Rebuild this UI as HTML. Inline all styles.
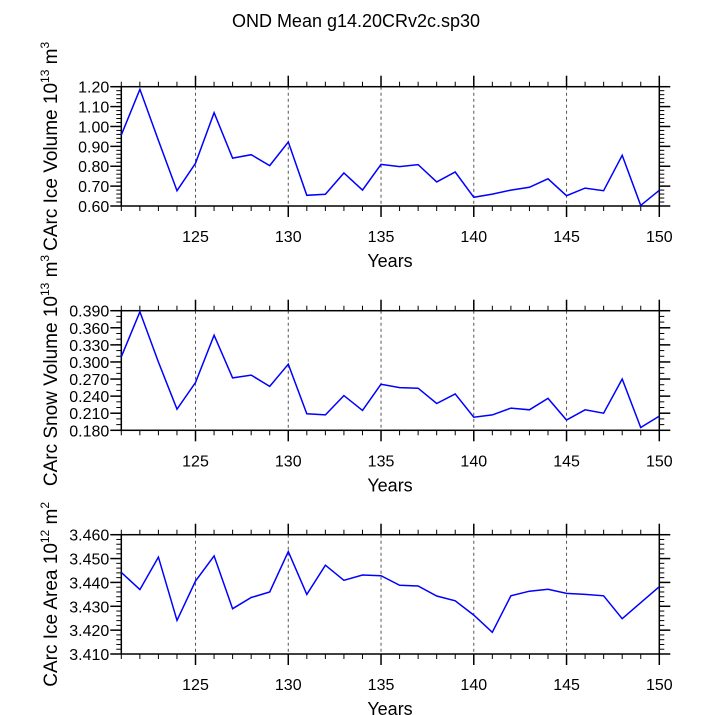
<!DOCTYPE html>
<html><head><meta charset="utf-8"><style>
body{margin:0;background:#fff}
svg{display:block;font-family:"Liberation Sans",Arial,sans-serif}
</style></head><body>
<svg id="chart" width="713" height="715" viewBox="0 0 713 715" xmlns="http://www.w3.org/2000/svg">
<text x="356" y="27" font-size="18" text-anchor="middle">OND Mean g14.20CRv2c.sp30</text>
</svg>
<script>
const years = [121,122,123,124,125,126,127,128,129,130,131,132,133,134,135,136,137,138,139,140,141,142,143,144,145,146,147,148,149,150];
const iceVolume = [0.957,1.187,0.93,0.677,0.815,1.069,0.841,0.858,0.803,0.922,0.654,0.659,0.766,0.68,0.809,0.798,0.808,0.721,0.771,0.644,0.66,0.68,0.694,0.737,0.652,0.69,0.677,0.855,0.603,0.679];
const snowVolume = [0.309,0.388,0.30,0.217,0.264,0.347,0.272,0.277,0.257,0.296,0.209,0.207,0.241,0.215,0.261,0.255,0.254,0.227,0.244,0.203,0.207,0.219,0.216,0.236,0.198,0.216,0.210,0.270,0.185,0.205];
const iceArea = [3.4442,3.4370,3.4506,3.4241,3.4406,3.4511,3.4290,3.4337,3.4360,3.4529,3.4350,3.4472,3.4409,3.4431,3.4428,3.4388,3.4385,3.4343,3.4323,3.4263,3.4191,3.4344,3.4363,3.4371,3.4354,3.4350,3.4344,3.4248,3.4315,3.4382];
const xTicks = [125,130,135,140,145,150];
const iceVolTicks = [0.60,0.70,0.80,0.90,1.00,1.10,1.20];
const snowTicks = [0.180,0.210,0.240,0.270,0.300,0.330,0.360,0.390];
const areaTicks = [3.410,3.420,3.430,3.440,3.450,3.460];

const NS="http://www.w3.org/2000/svg";
const svg=document.getElementById('chart');
function el(tag,attrs,parent){const e=document.createElementNS(NS,tag);for(const k in attrs)e.setAttribute(k,attrs[k]);(parent||svg).appendChild(e);return e;}

const L=121.3,R=659.3;
const xs=v=>L+(v-121)/(150-121)*(R-L);

function panel(key,top,bottom,data,ticks,dec,minorStep,labelMain,exp,unitExp){
  const lo=ticks[0],hi=ticks[ticks.length-1];
  const ys=v=>bottom-(v-lo)/(hi-lo)*(bottom-top);
  const g=el('g',{});
  
  
  [125,130,135,140,145].forEach(t=>{
    const d=el('line',{x1:xs(t),x2:xs(t),y1:top,y2:bottom,stroke:'#555','stroke-width':1,'stroke-dasharray':'3,3'},g);
    
    
  });
  for(let y=121;y<=150;y++){
    const maj=(y%5===0);const len=maj?11:5;
    el('line',{x1:xs(y),x2:xs(y),y1:top,y2:top-len,stroke:'#000','stroke-width':maj?1.5:1},g);
    el('line',{x1:xs(y),x2:xs(y),y1:bottom,y2:bottom+len,stroke:'#000','stroke-width':maj?1.5:1},g);
  }
  xTicks.forEach(t=>{
    const tx=el('text',{x:xs(t),y:bottom+36,'font-size':16,'text-anchor':'middle'},g);
    tx.textContent=t;
    
    
  });
  const nMin=Math.round((hi-lo)/minorStep);
  for(let i=0;i<=nMin;i++){
    const v=lo+i*minorStep,y=ys(v);
    el('line',{x1:L,x2:L-5,y1:y,y2:y,stroke:'#000'},g);
    el('line',{x1:R,x2:R+5,y1:y,y2:y,stroke:'#000'},g);
  }
  ticks.forEach(t=>{
    const y=ys(t);
    el('line',{x1:L,x2:L-11,y1:y,y2:y,stroke:'#000','stroke-width':1.5},g);
    el('line',{x1:R,x2:R+11,y1:y,y2:y,stroke:'#000','stroke-width':1.5},g);
    const tx=el('text',{x:L-12,y:y+6,'font-size':16,'text-anchor':'end'},g);
    tx.textContent=t.toFixed(dec);
    
    
  });
  el('rect',{x:L,y:top,width:R-L,height:bottom-top,fill:'none',stroke:'#000','stroke-width':1.5},g);
  const pts=years.map((yr,i)=>xs(yr).toFixed(1)+','+ys(data[i]).toFixed(1)).join(' ');
  const line=el('polyline',{points:pts,fill:'none',stroke:'#0000ff','stroke-width':1.5},g);
  
  
  const xl=el('text',{x:390,y:bottom+61,'font-size':18,'text-anchor':'middle'},g);
  xl.textContent='Years';
  
  
  const cy=(top+bottom)/2;
  const yl=el('text',{x:0,y:0,'font-size':19,'text-anchor':'middle',transform:'translate(57,'+cy+') rotate(-90)'},g);
  
  
  const a=el('tspan',{},yl);a.textContent=labelMain+' 10';
  const b=el('tspan',{'font-size':12,dy:-8},yl);b.textContent=exp;
  const c=el('tspan',{dy:8},yl);c.textContent=' m';
  const d=el('tspan',{'font-size':12,dy:-8},yl);d.textContent=unitExp;
}
panel('ice-volume',86.7,206,iceVolume,iceVolTicks,2,0.02,'CArc Ice Volume','13','3');
panel('snow-volume',310.7,430.3,snowVolume,snowTicks,3,0.01,'CArc Snow Volume','13','3');
panel('ice-area',534.7,654,iceArea,areaTicks,3,0.002,'CArc Ice Area','12','2');
</script>
</body></html>
